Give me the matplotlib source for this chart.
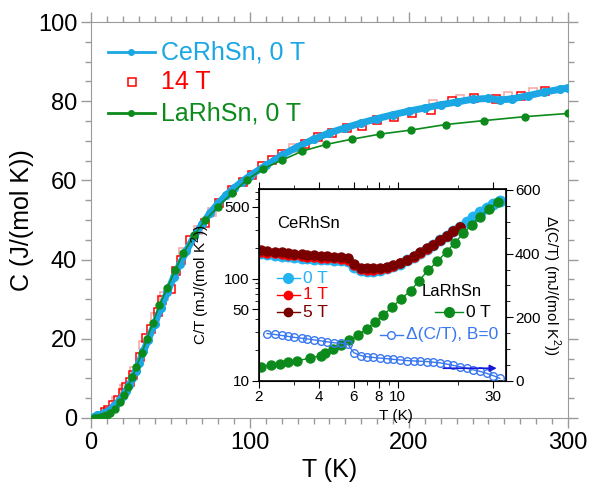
import matplotlib
matplotlib.use("Agg")
import matplotlib.pyplot as plt
from matplotlib.ticker import FixedLocator, MultipleLocator, NullFormatter, FixedFormatter

plt.rcParams['font.family'] = ['Liberation Sans', 'DejaVu Sans']
plt.rcParams['mathtext.fontset'] = 'custom'
plt.rcParams['mathtext.rm'] = 'Liberation Sans'

# ---- main panel: C(T) up to 300 K ----
T_ce0 = [2, 4, 6, 8, 10, 12, 14, 16, 18, 20, 22, 24, 26, 28, 30, 33, 36, 40, 44, 48, 52, 56,
         60, 65, 70, 75, 80, 85, 90, 95, 100, 110, 120, 130, 140, 150, 160, 170, 180, 190,
         200, 210, 220, 230, 240, 250, 257, 265, 275, 285, 295, 300]
C_ce0 = [0.35, 0.65, 0.85, 1.2, 1.6, 2.1, 2.9, 3.6, 4.6, 5.6, 6.9, 8.3, 10.0, 11.8, 13.8, 16.8,
         19.8, 23.8, 27.8, 31.8, 35.5, 39.0, 42.2, 46.0, 49.0, 51.8, 54.2, 56.3, 58.1, 59.7,
         61.2, 63.8, 66.3, 68.5, 70.4, 72.0, 73.3, 74.5, 75.6, 76.6, 77.5, 78.3, 79.1, 79.8,
         80.5, 80.7, 80.3, 80.6, 81.4, 82.3, 83.0, 83.4]

T_ce14 = [8.5, 10.9, 14, 17.2, 19.9, 22, 24.5, 26.6, 30.8, 34.4, 37.7, 42.3, 44.8, 50.3, 53.5,
          56.4, 62.3, 71.7, 80.7, 88.5, 95.8, 101, 107.3, 113.6, 120.3, 134.6, 143, 151.4,
          160.8, 170.2, 180, 190.8, 202, 213.8, 226.8, 240.9, 254.5, 270.2, 285.5]
C_ce14 = [1.6, 2.1, 3.2, 4.5, 6.4, 7.8, 9.2, 10.9, 15.5, 20.3, 22.6, 26.8, 29.8, 32.5, 37.2,
          40.0, 45.0, 49.2, 54.2, 57.6, 59.7, 61.4, 63.7, 65.1, 66.7, 69.2, 70.9, 71.9, 73.2,
          73.7, 75.3, 76.1, 76.9, 77.9, 80.1, 80.9, 80.6, 81.2, 82.7]

# second 14 T run, drawn lighter
T_ce14b = [16, 21, 27, 33, 40, 46, 58, 67, 76, 127.3, 215, 232, 262, 278]
C_ce14b = [4.2, 7.2, 11.8, 18.5, 25.5, 30.8, 42.0, 47.5, 52.0, 68.1, 79.3, 80.6, 81.3, 82.2]

T_la = [2, 3, 4, 5, 6, 7, 8, 9, 10, 12, 15, 18, 21, 23, 26, 28.5, 32, 35, 39, 43, 48, 53, 58,
        65, 72, 80, 88.5, 98, 108, 120, 133, 148, 164, 182, 201, 223, 247, 273, 300]
C_la = [0.03, 0.05, 0.08, 0.12, 0.19, 0.28, 0.4, 0.55, 0.75, 1.2, 2.3, 4.1, 5.8, 7.8, 10.3,
        13.0, 16.3, 19.9, 24.1, 28.5, 32.9, 37.4, 41.6, 46.2, 50.0, 53.4, 56.7, 60.1, 62.9,
        65.1, 67.4, 69.1, 70.4, 71.7, 72.7, 74.1, 75.1, 76.1, 76.9]

# ---- inset: C/T on log axes, plus Delta(C/T) on the right ----
T_ins = [2.05, 2.2, 2.4, 2.6, 2.8, 3.0, 3.3, 3.5, 3.8, 4.1, 4.4, 4.8, 5.2, 5.6, 6.0, 6.5, 7.0,
         7.5, 8.1, 8.8, 9.5, 10.3, 11.1, 12.0, 13.0, 14.0, 15.1, 16.3, 17.6, 19.0, 20.5,
         22.2, 24.0, 26.0, 28.0, 30.2, 32.6]
CT_0T = [176, 172, 170, 167, 165, 163, 160, 158, 157, 155, 154, 153, 152, 148, 130, 120, 119,
         119, 121, 126, 132, 140, 151, 163, 178, 195, 213, 236, 261, 290, 320, 358, 397, 445,
         490, 530, 570]
CT_1T = [182, 179, 177, 174, 171, 169, 166, 164, 162, 160, 159, 158, 157, 153, 135, 124, 122,
         122, 124, 128, 134, 141, 152, 164, 179, 196, 214, 237, 262, 291, 321]
CT_5T = [188, 185, 183, 180, 177, 175, 172, 170, 168, 166, 165, 164, 163, 158, 140, 128, 126,
         126, 127, 131, 136, 143, 153, 165, 180, 197, 215, 238, 263, 292, 322]

T_la_ins = [2.05, 2.3, 2.55, 2.8, 3.1, 3.6, 4.1, 4.3, 4.7, 5.2, 5.7, 6.3, 7.0, 7.7, 8.4, 9.4,
            10.4, 11.6, 12.8, 14.2, 15.8, 17.6, 19.3, 21.4, 23.5, 25.8, 28.7, 31.9]
CT_la = [13.8, 14.3, 14.8, 15.4, 15.8, 16.6, 17.7, 18.6, 20.3, 22.3, 25.0, 28.0, 32.5, 37.7,
         43.7, 53.0, 63.5, 76.0, 95.6, 120, 147, 183, 222, 277, 333, 400, 482, 560]

T_dct = [2.2, 2.4, 2.6, 2.8, 3.0, 3.3, 3.5, 3.8, 4.1, 4.4, 4.8, 5.2, 5.6, 6.0, 6.5, 7.0, 7.5,
         8.1, 8.8, 9.5, 10.3, 11.1, 12.0, 13.0, 14.0, 15.1, 16.3, 17.6, 19.0, 20.5, 22.2,
         24.0, 26.0, 28.0, 30.2, 32.6]
dCT = [149, 146, 143, 140, 137, 134, 132, 129, 126, 123, 120, 118, 116, 89, 80, 76, 74, 72,
       70, 68, 66, 64, 63, 62, 61, 59, 57, 53, 49, 45, 40, 35, 30, 24, 17, 8]

# arrow marking which axis the Delta(C/T) curve belongs to
arrow_T = (16.4, 32.5)
arrow_D = 40

c_ce = '#1aa7e3'
c_ins0 = '#22b4f2'
c_red = '#ff0000'
c_pink = '#f4a3a3'
c_dred = '#7a0000'
c_green = '#0c8a1c'
c_dct = '#3a78f0'
c_arrow = '#1818d8'

fig = plt.figure(figsize=(5.91, 4.87), dpi=100)
ax = fig.add_axes([0.154, 0.1417, 0.807, 0.8131])

ax.plot(T_ce14b, C_ce14b, ls='none', marker='s', ms=6, mfc='none', mec=c_pink, mew=1.1, zorder=1)
ax.plot(T_ce14, C_ce14, ls='none', marker='s', ms=6, mfc='none', mec=c_red, mew=1.1, zorder=2)
ax.plot(T_ce0, C_ce0, color=c_ce, lw=5, marker='o', ms=5.5, solid_capstyle='round', zorder=3)
ax.plot(T_la, C_la, color=c_green, lw=1.2, marker='o', ms=5, zorder=4)

ax.set_xlim(0, 300)
ax.set_ylim(0, 100)
ax.xaxis.set_major_locator(MultipleLocator(100))
ax.xaxis.set_minor_locator(MultipleLocator(10))
ax.yaxis.set_major_locator(MultipleLocator(20))
ax.yaxis.set_minor_locator(MultipleLocator(5))
ax.tick_params(which='both', direction='out', top=True, right=True, color='#9a9a9a',
               labelsize=17, pad=3)
ax.tick_params(which='major', length=7, width=1)
ax.tick_params(which='minor', length=4, width=1)
for s in ax.spines.values():
    s.set_color('#9a9a9a')
ax.set_xlabel('T (K)', fontsize=18, labelpad=3)
ax.set_ylabel('C (J/(mol K))', fontsize=18, labelpad=3)


def key(a, x, y, text, color, size, hl=0.1, tcolor=None, **mk):
    # one legend row in axes fraction coordinates, marker in the middle of the line
    a.plot([x, x + hl / 2, x + hl], [y, y, y], transform=a.transAxes, clip_on=False,
           color=color, markevery=[1], **mk)
    a.text(x + hl + 0.012, y, text, transform=a.transAxes, color=tcolor or color,
           fontsize=size, va='center', ha='left')


key(ax, 0.0356, 0.924, 'CeRhSn, 0 T', c_ce, 18, hl=0.0985, lw=2, marker='o', ms=4)
ax.plot([0.085], [0.848], transform=ax.transAxes, ls='none', marker='s', ms=6, mfc='none',
        mec=c_red, mew=1.1)
ax.text(0.1461, 0.848, '14 T', transform=ax.transAxes, color=c_red, fontsize=18,
        va='center', ha='left')
key(ax, 0.0356, 0.770, 'LaRhSn, 0 T', c_green, 18, hl=0.0985, lw=2, marker='o', ms=4)

# ---- inset ----
ins = fig.add_axes([0.438, 0.2177, 0.418, 0.3943])
ins.set_zorder(5)
ins.set_facecolor('white')
ins.set_xscale('log')
ins.set_yscale('log')

ins.plot(T_ins, CT_0T, color=c_ins0, lw=1, marker='o', ms=7.5)
ins.plot(T_ins[:len(CT_1T)], CT_1T, color=c_red, lw=1, marker='o', ms=6.5)
ins.plot(T_ins[:len(CT_5T)], CT_5T, color=c_dred, lw=1, marker='o', ms=6.5)
ins.plot(T_la_ins, CT_la, color=c_green, lw=1, marker='o', ms=6.5)

ins.set_xlim(2, 35)
ins.set_ylim(10, 750)
ins.xaxis.set_major_locator(FixedLocator([2, 4, 6, 8, 10, 30]))
ins.xaxis.set_major_formatter(FixedFormatter(['2', '4', '6', '8', '10', '30']))
ins.xaxis.set_minor_locator(FixedLocator([3, 5, 7, 9, 20]))
ins.xaxis.set_minor_formatter(NullFormatter())
ins.yaxis.set_major_locator(FixedLocator([10, 50, 100, 500]))
ins.yaxis.set_major_formatter(FixedFormatter(['10', '50', '100', '500']))
ins.yaxis.set_minor_locator(FixedLocator([20, 30, 40, 60, 70, 80, 90, 200, 300, 400, 600, 700]))
ins.yaxis.set_minor_formatter(NullFormatter())
ins.tick_params(which='both', direction='out', top=True, labelsize=11, pad=1.5)
ins.tick_params(which='major', length=5)
ins.tick_params(which='minor', length=3)
for s in ins.spines.values():
    s.set_linewidth(1.2)
ins.set_xlabel('T (K)', fontsize=11)
ins.xaxis.set_label_coords(0.555, -0.145)
ins.set_ylabel('C/T (mJ/(mol K$^2$))', fontsize=11)
ins.yaxis.set_label_coords(-0.19, 0.5)

rt = ins.twinx()
rt.plot(T_dct, dCT, color=c_dct, lw=1, marker='o', ms=5.5, mfc='none', mew=1)
rt.set_ylim(0, 603)
rt.yaxis.set_major_locator(MultipleLocator(200))
rt.yaxis.set_minor_locator(MultipleLocator(50))
rt.tick_params(which='both', direction='out', labelsize=11, pad=1.5)
rt.tick_params(which='major', length=5)
rt.tick_params(which='minor', length=3)
rt.set_ylabel('Δ(C/T) (mJ/(mol K$^2$))', fontsize=11, rotation=270)
rt.yaxis.label.set_verticalalignment('center')
rt.yaxis.set_label_coords(1.183, 0.5)
rt.annotate('', xy=(arrow_T[1], arrow_D), xytext=(arrow_T[0], arrow_D),
            arrowprops=dict(arrowstyle='-|>', color=c_arrow, lw=1.2, mutation_scale=10))

ins.text(0.073, 0.818, 'CeRhSn', transform=ins.transAxes, fontsize=12, va='center')
key(ins, 0.073, 0.536, '0 T', c_ins0, 12.5, hl=0.093, lw=1, marker='o', ms=7)
key(ins, 0.073, 0.448, '1 T', c_red, 12.5, hl=0.093, lw=1, marker='o', ms=6)
key(ins, 0.073, 0.359, '5 T', c_dred, 12.5, hl=0.093, lw=1, marker='o', ms=6)
ins.text(0.658, 0.464, 'LaRhSn', transform=ins.transAxes, fontsize=12, va='center')
key(ins, 0.713, 0.359, '0 T', c_green, 12.5, hl=0.113, tcolor='black', lw=1, marker='o', ms=7)
key(rt, 0.490, 0.240, 'Δ(C/T), B=0', c_dct, 12.5, hl=0.093, lw=1, marker='o', ms=5.5,
    mfc='white', mew=1)

fig.savefig('out.png', dpi=100)
